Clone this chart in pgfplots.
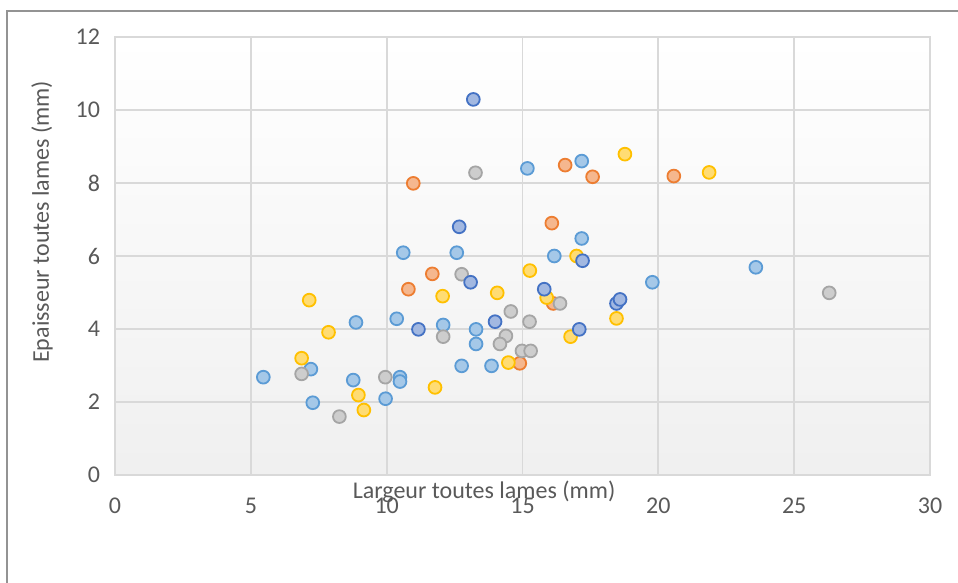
\documentclass[border=0pt]{standalone}
\usepackage{fontspec}
\setmainfont{Carlito}
\usepackage{pgfplots}
\pgfplotsset{compat=1.18}
\definecolor{cLB}{HTML}{5B9BD5}
\definecolor{cOR}{HTML}{ED7D31}
\definecolor{cGR}{HTML}{A5A5A5}
\definecolor{cYE}{HTML}{FFC000}
\definecolor{cDB}{HTML}{4472C4}
\definecolor{txt}{HTML}{595959}
\definecolor{grid}{HTML}{D9D9D9}
\begin{document}
\begin{tikzpicture}
\useasboundingbox (0,0) rectangle (479pt,291.5pt);
\draw[color=gray!85, line width=1pt] (3.5pt,0) -- (3.5pt,286pt) -- (479pt,286pt);
\begin{axis}[
  at={(57.5pt,54pt)}, anchor=south west,
  scale only axis, width=407.5pt, height=219pt,
  xmin=0, xmax=30, ymin=0, ymax=12,
  xtick={0,5,...,30}, ytick={0,2,...,12},
  grid=major,
  major grid style={draw=grid, line width=0.9pt},
  axis line style={draw=grid, line width=0.9pt},
  major tick length=0pt,
  tick label style={font=\fontsize{12}{14}\selectfont, text=txt},
  /pgf/number format/assume math mode=true,
  xticklabel style={anchor=center, yshift=-15.5pt},
  yticklabel style={anchor=east, xshift=-4pt},
  axis background/.style={shade, top color=white, bottom color=black!6},
  xlabel={Largeur toutes lames (mm)},
  ylabel={Epaisseur toutes lames (mm)},
  every axis x label/.style={at={(axis description cs:0.4528,-0.039)}, anchor=center, font=\fontsize{12}{14}\selectfont, text=txt},
  every axis y label/.style={at={(axis description cs:-0.0896,0.578)}, rotate=90, anchor=center, font=\fontsize{12}{14}\selectfont, text=txt},
  clip=false,
]
% light blue
\addplot[only marks, mark=*, mark size=3.2pt, mark options={draw=cLB, fill=cLB!55!white, line width=0.9pt}] coordinates {
(5.46,2.68) (7.21,2.9) (7.28,1.98) (8.77,2.6) (8.87,4.18) (9.96,2.09)
(10.37,4.28) (10.49,2.68) (10.49,2.56) (10.61,6.09) (12.08,4.11) (12.58,6.09)
(12.76,2.99) (13.29,3.99) (13.29,3.59) (13.86,2.99) (15.18,8.40) (16.17,6.0)
(17.18,8.60) (17.18,6.48) (19.78,5.28) (23.59,5.69)
};
% orange
\addplot[only marks, mark=*, mark size=3.2pt, mark options={draw=cOR, fill=cOR!55!white, line width=0.9pt}] coordinates {
(10.98,7.99) (16.57,8.49) (17.58,8.17) (20.57,8.19) (16.08,6.9) (11.68,5.51)
(10.80,5.09) (16.13,4.70) (14.9,3.06)
};
% gray
\addplot[only marks, mark=*, mark size=3.2pt, mark options={draw=cGR, fill=cGR!55!white, line width=0.9pt}] coordinates {
(13.27,8.28) (12.76,5.5) (16.38,4.70) (14.57,4.48) (15.26,4.2) (12.08,3.79)
(14.39,3.81) (14.17,3.59) (14.98,3.40) (15.3,3.40) (9.95,2.68) (6.87,2.77)
(8.26,1.6) (26.29,4.99)
};
% yellow
\addplot[only marks, mark=*, mark size=3.2pt, mark options={draw=cYE, fill=cYE!55!white, line width=0.9pt}] coordinates {
(18.77,8.79) (21.87,8.29) (16.99,6.0) (15.27,5.6) (15.89,4.86) (14.07,4.99)
(12.06,4.9) (18.46,4.29) (16.77,3.79) (14.48,3.08) (11.78,2.40) (7.15,4.79)
(7.86,3.91) (6.87,3.2) (8.96,2.19) (9.16,1.78)
};
% dark blue
\addplot[only marks, mark=*, mark size=3.2pt, mark options={draw=cDB, fill=cDB!50!white, line width=0.9pt}] coordinates {
(13.19,10.29) (12.67,6.80) (13.09,5.28) (11.17,3.99) (13.99,4.2) (15.8,5.09)
(17.09,3.99) (18.46,4.70) (18.59,4.81) (17.21,5.87)
};
\end{axis}
\end{tikzpicture}
\end{document}
